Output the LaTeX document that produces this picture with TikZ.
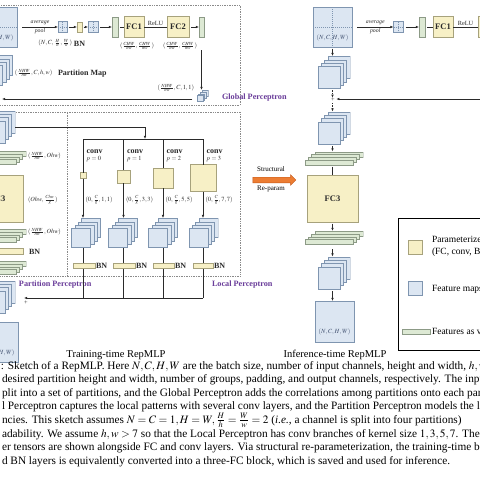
\documentclass[tikz,border=0pt]{standalone}
\usepackage{mathptmx}
\usepackage{fontspec}
\setmainfont{Liberation Serif}
\usetikzlibrary{arrows.meta,shapes.arrows}
\definecolor{fmf}{HTML}{DCE6F2}
\definecolor{fmb}{HTML}{7F95B0}
\definecolor{ylf}{HTML}{F7F0C6}
\definecolor{ylb}{HTML}{A7A27C}
\definecolor{grf}{HTML}{DDE9D4}
\definecolor{grb}{HTML}{8C9A86}
\definecolor{txt}{HTML}{2A2A2A}
\definecolor{ftx}{HTML}{3B4B6B}
\definecolor{purp}{HTML}{6A3D9A}
\definecolor{orf}{HTML}{EC7D33}
\definecolor{orb}{HTML}{C45A1C}
\definecolor{dotc}{HTML}{8A8A8A}
\begin{document}
\begin{tikzpicture}[x=1pt,y=-1pt,line width=0.55pt,
  >={Latex[length=3.2pt,width=2.6pt]},
  every node/.style={inner sep=0pt, outer sep=0pt},
  sz/.style 2 args={minimum width=#1, minimum height=#2},
  fm/.style={draw=fmb, fill=fmf, line width=0.45pt},
  ylw/.style={draw=ylb, fill=ylf, line width=0.45pt},
  grn/.style={draw=grb, fill=grf, line width=0.45pt},
  crossl/.style={draw=fmb, line width=0.35pt, dash pattern=on 1pt off 1pt},
  stk/.style 2 args={minimum width=#1+3*#2+1, minimum height=#1+3*#2+1,
     path picture={\foreach \k in {3,2,1,0}{\draw[fm] ([shift={(0.5pt+\k*#2pt,0.5pt+\k*#2pt)}]path picture bounding box.south west) rectangle ++(#1pt,#1pt);}}},
  gstk/.style n args={4}{minimum width=#1+3*#3+1, minimum height=#2+3*#4+1,
     path picture={\foreach \k in {3,2,1,0}{\draw[grn] ([shift={(0.5pt+\k*#3pt,0.5pt+\k*#4pt)}]path picture bounding box.south west) rectangle ++(#1pt,#2pt);}}},
  lbl/.style={font=\fontsize{6.3}{7}\selectfont, text=txt},
  alb/.style={font=\fontsize{5.8}{6}\selectfont\itshape, text=txt},
  bl/.style={font=\fontsize{8}{9}\selectfont\bfseries, text=txt},
  fcl/.style={font=\fontsize{8.5}{9}\selectfont\bfseries, text=txt},
  pl/.style={font=\fontsize{8.2}{9}\selectfont\bfseries, text=purp},
  dbox/.style={draw=dotc, dash pattern=on 0.8pt off 0.9pt, line width=0.5pt},
  ln/.style={draw=txt, line width=0.6pt},
  arr/.style={ln, ->},
  captxt/.style={font=\fontsize{11.3}{13}\selectfont, anchor=base west, text=black},
  lgt/.style={font=\fontsize{9.5}{11}\selectfont, text=black},
  ttl/.style={font=\fontsize{10.5}{12}\selectfont, text=black}]
\useasboundingbox (0,0) rectangle (480,480);
\clip (0,0) rectangle (480,480);
\fill[white] (0,0) rectangle (480,480);

% dotted boxes
\draw[dbox] (-5,5) rectangle (240,105);
\draw[dbox] (-5,112) rectangle (240,276.5);
\draw[dbox] (67,113) -- (67,276.5);

% ===== Training: global perceptron =====
\node[fm, sz={39}{40}] (inL) at (-2.5,27) {};
\draw[crossl] (inL.north) -- (inL.south) (inL.west) -- (inL.east);
\node[lbl, text=ftx] at (-2.5,38) {$(N,C,H,W)$};
\node[fm, sz={9}{11}] (g1) at (62.5,27) {};
\draw[crossl] (g1.north) -- (g1.south) (g1.west) -- (g1.east);
\node[ylw, sz={5}{10}] (bnG) at (79.5,27) {};
\node[fm, sz={10}{11}] (g2) at (93,27) {};
\draw[crossl] (g2.north) -- (g2.south) (g2.west) -- (g2.east);
\node[grn, sz={6}{20}] (bar1) at (115,27) {};
\node[ylw, sz={20}{21}, fcl] (fc1) at (134,27) {FC1};
\node[ylw, sz={22}{21}, fcl] (fc2) at (178,27) {FC2};
\node[grn, sz={5}{20}] (bar2) at (201.5,27) {};
\draw[arr] ([xshift=5pt]inL.east) -- (g1.west) node[midway, above=1.8pt, alb]{average} node[midway, below=1.8pt, alb]{pool};
\draw[arr, shorten <=1.5pt] (g1) -- (bnG);
\draw[arr, shorten <=1.5pt] (bnG) -- (g2);
\draw[arr, shorten <=2pt] (g2) -- (bar1);
\draw[ln, shorten <=2pt] (bar1) -- (fc1);
\draw[ln] (fc1) -- (fc2) node[midway, above=1pt, lbl]{ReLU};
\draw[arr, shorten <=2pt] (fc2) -- (bar2);
\node[lbl, anchor=east] at (72,43) {$(N,C,\frac{H}{h},\frac{W}{w})$};
\node[bl, anchor=west] at (74,43.5) {BN};
\node[lbl] at (137,46) {$(\frac{CHW}{hw},\frac{CHW}{hw})$};
\node[lbl] at (180,46) {$(\frac{CHW}{hw},\frac{CHW}{hw})$};
\node[stk={6}{1.7}] (mini) at (202.5,96) {};
\draw[arr] ([yshift=-13pt]bar2.south) -- (bar2.south |- mini.north);
\node[lbl, anchor=east] at (194,88) {$(\frac{NHW}{hw},C,1,1)$};
\coordinate (gpL) at (2,99);
\draw[arr] ([xshift=-4pt,yshift=-3pt]mini.west) -- (gpL);
\node[stk={20}{3.3}] (pmap) at (-2.5,70.5) {};
\node[lbl, anchor=west] at (15,73) {$(\frac{NHW}{hw},C,h,w)$};
\node[bl, anchor=west] at (58,74) {Partition Map};
\node[pl, anchor=west] at (222,98) {Global Perceptron};

% ===== Training: partition perceptron column =====
\node[stk={22}{3.3}] (pin) at (-1,127) {};
\node[gstk={48}{5}{3.3}{2.7}] (gs1) at (-3,158) {};
\node[lbl, anchor=west] at (28,156) {$(\frac{NHW}{hw},Ohw)$};
\node[ylw, sz={51}{47}, fcl] (fc3) at (-2.5,198.5) {FC3};
\node[lbl, anchor=west] at (28,200) {$(Ohw,\frac{Chw}{g})$};
\node[gstk={48}{5}{3.3}{2.7}] (gs2) at (-3,236) {};
\node[lbl, anchor=west] at (28,232) {$(\frac{NHW}{hw},Ohw)$};
\node[ylw, sz={53}{6}] (bnP) at (-3.5,251) {};
\node[bl, anchor=west] at (29,252) {BN};
\node[gstk={48}{5}{3.3}{2.7}] (gs3) at (-3,268) {};
\node[stk={22}{3.3}] (pout) at (-1,297) {};
\node[lbl] (plus) at (26,303) {+};
\node[fm, sz={39}{40}] (outL) at (-1.5,342) {};
\node[lbl, text=ftx] at (-1.5,353) {$(N,C,H,W)$};
\node[pl, anchor=west] at (19,285) {Partition Perceptron};
\node[pl, anchor=west] at (212,285) {Local Perceptron};

% ===== Local perceptron branches =====
\coordinate (split) at (145,139);
\coordinate (brL) at (83,139);
\coordinate (brR) at (203,139);
\coordinate (sumL) at (24,298);
\draw[arr] (pin.east) -| (split);
\draw[ln] (brL) -- (brR);
\node[ylw, sz={6}{6}] (k0) at (83,175.5) {};
\node[ylw, sz={13}{13}] (k1) at (123.5,176.5) {};
\node[ylw, sz={20}{20}] (k2) at (163,178) {};
\node[ylw, sz={26}{27}] (k3) at (203,178) {};
\node[stk={19}{3.3}] (s0) at (86,233) {};
\node[stk={19}{3.3}] (s1) at (123,233) {};
\node[stk={19}{3.3}] (s2) at (163,233) {};
\node[stk={19}{3.3}] (s3) at (203.5,233) {};
\foreach \i/\p/\kk in {0/0/1, 1/1/3, 2/2/5, 3/3/7}{
  \draw[ln] (k\i.north |- brL) -- (k\i.north);
  \draw[arr] (k\i.south) -- (k\i.south |- s\i.north);
  \draw[ln] (k\i.south |- s\i.south) -- (k\i.south |- sumL);
  \node[bl, anchor=west] at ([xshift=3.5pt]k\i.north |- 0,152) {conv};
  \node[lbl, anchor=west] at ([xshift=3.5pt]k\i.north |- 0,159.5) {$p=\p$};
  \node[lbl, anchor=west] at ([xshift=2.5pt]k\i.north |- 0,200) {$(0,\frac{C}{g},\kk,\kk)$};
}
\draw[arr] (k3.south |- sumL) -- (sumL);
\node[ylw, sz={22}{5}] (b0) at (84,265.5) {};
\node[ylw, sz={22}{5}] (b1) at (124,265.5) {};
\node[ylw, sz={21}{5}] (b2) at (163.5,265.5) {};
\node[ylw, sz={20}{5}] (b3) at (203,265.5) {};
\foreach \i in {0,1,2,3}{\node[bl, anchor=west] at ([xshift=1pt,yshift=-0.5pt]b\i.east) {BN};}

% ===== Inference =====
\node[fm, sz={39}{40}] (inR) at (332.5,27) {};
\draw[crossl] (inR.north) -- (inR.south) (inR.west) -- (inR.east);
\node[lbl, text=ftx] at (332.5,38) {$(N,C,H,W)$};
\node[fm, sz={10}{11}] (gR) at (398.5,27) {};
\draw[crossl] (gR.north) -- (gR.south) (gR.west) -- (gR.east);
\node[grn, sz={6}{20}] (barR) at (422,27) {};
\node[ylw, sz={20}{21}, fcl] (fc1R) at (443,27) {FC1};
\node[ylw, sz={22}{21}, fcl] (fc2R) at (489,27) {FC2};
\draw[arr] ([xshift=5pt]inR.east) -- (gR.west) node[midway, above=1.8pt, alb]{average} node[midway, below=1.8pt, alb]{pool};
\draw[arr, shorten <=2pt] (gR) -- (barR);
\draw[ln, shorten <=2pt] (barR) -- (fc1R);
\draw[ln] (fc1R) -- (fc2R) node[midway, above=1pt, lbl]{ReLU};
\node[stk={22}{3.3}] (sR1) at (334,72.5) {};
\draw[arr, shorten <=1.5pt] (inR.south) -- (inR.south |- sR1.north);
\node[lbl] (plusR) at (333,100) {+};
\node[stk={22}{3.3}] (sR2) at (334,128) {};
\draw[arr, dash pattern=on 1.5pt off 1pt, shorten <=1.5pt, shorten >=0.5pt] (inR.south |- sR1.south) -- (inR.south |- plusR.north);
\draw[arr, dash pattern=on 1.5pt off 1pt, shorten <=1pt] (inR.south |- plusR.south) -- (inR.south |- sR2.north);
\coordinate (gpR) at (482,99);
\draw[arr] (gpR) -- ([xshift=1.5pt]plusR.east |- gpR);
\node[gstk={48}{5}{3.3}{2.7}] (gR1) at (334,158.5) {};
\draw[arr, shorten <=1.5pt] (inR.south |- sR2.south) -- (inR.south |- gR1.north);
\node[ylw, sz={51}{47}, fcl] (fc3R) at (332.5,198.5) {FC3};
\draw[ln, shorten <=1pt] (fc3R.north |- gR1.south) -- (fc3R.north);
\node[gstk={48}{5}{3.3}{2.7}] (gR2) at (334,238) {};
\draw[arr, shorten <=1.5pt] (fc3R.south) -- (fc3R.south |- gR2.north);
\node[stk={22}{3.3}] (sR3) at (334,273) {};
\draw[arr, shorten <=4pt] (fc3R.south |- gR2.south) -- (fc3R.south |- sR3.north);
\node[fm, sz={39}{41}] (outR) at (334.5,321.5) {};
\node[lbl, text=ftx] at (334.5,332) {$(N,C,H,W)$};
\draw[arr, shorten <=2pt] (fc3R.south |- sR3.south) -- (fc3R.south |- outR.north);

% structural re-param arrow
\node[single arrow, draw=orb, fill=orf, line width=0.4pt, minimum height=43, single arrow head extend=2.5pt, inner sep=2.6pt] (sra) at (273,180) {};
\node[font=\fontsize{7}{8}\selectfont] at (271,169.5) {Structural};
\node[font=\fontsize{7}{8}\selectfont] at (271,189) {Re-param};

% titles
\node[ttl] at (116,355) {Training-time RepMLP};
\node[ttl] at (335,355) {Inference-time RepMLP};

% legend
\draw[line width=0.8pt] (398,218) rectangle (490,350);
\node[ylw, sz={14}{14}] (ly) at (415,247) {};
\node[lgt, anchor=west] at (432,240) {Parameterized layers};
\node[lgt, anchor=west] at (432,252.5) {(FC, conv, BN)};
\node[fm, sz={14}{14}] (lb) at (415,288.5) {};
\node[lgt, anchor=west] at (432,289) {Feature maps};
\node[grn, sz={28}{5}] (lg) at (416.5,331.5) {};
\node[lgt, anchor=west] at (432,331.5) {Features as vectors};

% caption
\node[captxt] at (1,369) {: Sketch of a RepMLP. Here $N,C,H,W$ are the batch size, number of input channels, height and width, $h,w$ are the};
\node[captxt] at (2,382.6) {desired partition height and width, number of groups, padding, and output channels, respectively. The input is};
\node[captxt] at (2,396.2) {plit into a set of partitions, and the Global Perceptron adds the correlations among partitions onto each partition.};
\node[captxt] at (2,409.8) {l Perceptron captures the local patterns with several conv layers, and the Partition Perceptron models the long-range};
\node[captxt] at (2,423.4) {ncies. This sketch assumes $N=C=1,H=W,\frac{H}{h}=\frac{W}{w}=2$ (\textit{i.e.}, a channel is split into four partitions)};
\node[captxt] at (2,437) {adability. We assume $h,w>7$ so that the Local Perceptron has conv branches of kernel size $1,3,5,7$. The shapes};
\node[captxt] at (2,450.6) {er tensors are shown alongside FC and conv layers. Via structural re-parameterization, the training-time block};
\node[captxt] at (2,464.2) {d BN layers is equivalently converted into a three-FC block, which is saved and used for inference.};
\end{tikzpicture}
\end{document}
